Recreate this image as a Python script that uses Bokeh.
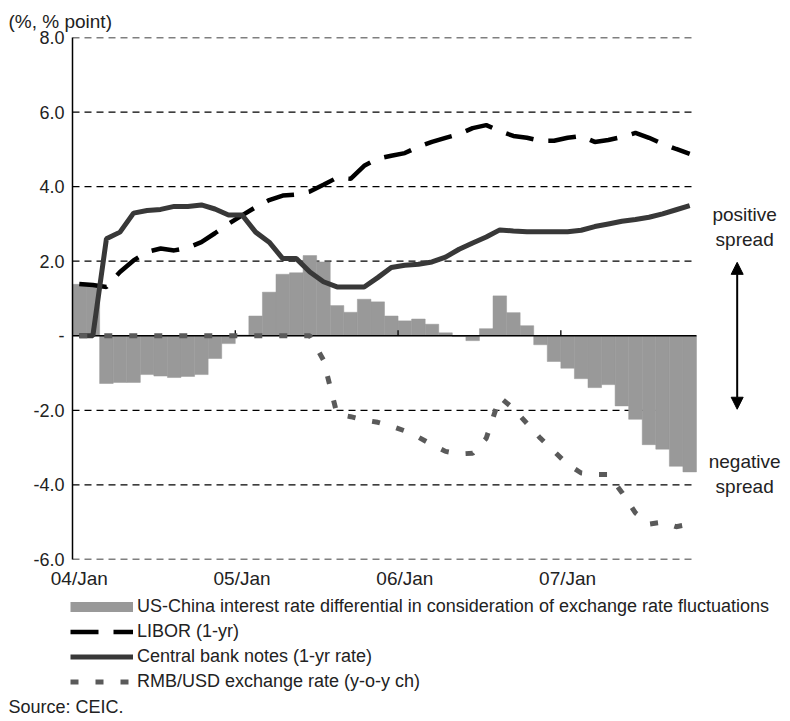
from bokeh.plotting import figure
from bokeh.layouts import column
from bokeh.models import (Range1d, FixedTicker, Label, Legend, LegendItem, Arrow, NormalHead,
                          ColumnDataSource, Title)
from bokeh.embed import file_html
from bokeh.resources import INLINE

FONT = "Liberation Sans"

# ---- data (monthly, Jan 2004 - Oct 2007) ----
years = ["04", "05", "06", "07"]
mon_names = ["Jan", "Feb", "Mar", "Apr", "May", "Jun", "Jul", "Aug", "Sep", "Oct", "Nov", "Dec"]
months = [f"{y}/{m}" for y in years for m in mon_names][:46]

spread = [1.38, 1.38, -1.28, -1.25, -1.25, -1.04, -1.08, -1.12, -1.09, -1.04, -0.61, -0.21,
          0.02, 0.53, 1.17, 1.65, 1.69, 2.15, 1.98, 0.81, 0.63, 0.98, 0.91, 0.53,
          0.40, 0.45, 0.31, 0.08, -0.02, -0.13, 0.19, 1.07, 0.62, 0.27, -0.24, -0.69,
          -0.87, -1.15, -1.39, -1.31, -1.88, -2.24, -2.92, -3.04, -3.50, -3.65]

libor = [1.39, 1.36, 1.31, 1.71, 2.02, 2.25, 2.34, 2.29, 2.36, 2.51, 2.75, 3.00,
         3.23, 3.45, 3.64, 3.76, 3.79, 3.87, 4.05, 4.24, 4.21, 4.56, 4.75, 4.83,
         4.90, 5.07, 5.20, 5.31, 5.41, 5.57, 5.65, 5.49, 5.36, 5.31, 5.23, 5.23,
         5.31, 5.36, 5.20, 5.25, 5.33, 5.44, 5.31, 5.15, 5.01, 4.88]

central = [0.0, 0.0, 2.60, 2.78, 3.29, 3.36, 3.39, 3.47, 3.47, 3.51, 3.40, 3.24,
           3.24, 2.78, 2.51, 2.07, 2.07, 1.71, 1.45, 1.31, 1.31, 1.31, 1.56, 1.83,
           1.89, 1.92, 1.98, 2.11, 2.32, 2.49, 2.65, 2.84, 2.81, 2.79, 2.79, 2.79,
           2.79, 2.83, 2.93, 3.00, 3.07, 3.12, 3.18, 3.27, 3.38, 3.49]

rmb = [0.0, 0.0, 0.0, 0.0, 0.0, 0.0, 0.0, 0.0, 0.0, 0.0, 0.0, 0.0,
       0.0, 0.0, 0.0, 0.0, 0.0, 0.0, -0.65, -2.10, -2.17, -2.26, -2.32, -2.42,
       -2.55, -2.72, -2.92, -3.10, -3.17, -3.15, -2.75, -1.65, -1.95, -2.35, -2.75, -3.10,
       -3.45, -3.68, -3.72, -3.72, -4.20, -4.75, -5.05, -5.00, -5.12, -5.05]

y_ticks = [-6, -4, -2, 0, 2, 4, 6, 8]
y_tick_labels = ["-6.0", "-4.0", "-2.0", "-", "2.0", "4.0", "6.0", "8.0"]
x_tick_labels = ["04/Jan", "05/Jan", "06/Jan", "07/Jan"]

series_names = ["US-China interest rate differential in consideration of exchange rate fluctuations",
                "LIBOR (1-yr)",
                "Central bank notes (1-yr rate)",
                "RMB/USD exchange rate (y-o-y ch)"]

# styles
BAR_COLOR = "#999999"
BAR_KEY_STYLE = dict(line_color=BAR_COLOR, line_width=10)
LIBOR_STYLE = dict(line_color="black", line_width=4.5, line_dash="28 15")
CENTRAL_STYLE = dict(line_color="#383838", line_width=5)
RMB_STYLE = dict(line_color="#5a5a5a", line_width=5, line_dash="8 17")
TXT = "#222222"

# ---- layout (pixels) ----
W = 786
H1 = 591           # main chart height
H2 = 126           # legend + source strip height
LEFT, TOP, BOTTOM_Y = 72, 37, 559
PX_PER_MONTH = 13.565
ROW_H = 25
n = len(months)
x0 = -0.5
x_end = x0 + (W - LEFT) / PX_PER_MONTH

idx = list(range(n))
src = ColumnDataSource(dict(x=idx, spread=spread, libor=libor, central=central, rmb=rmb))

p = figure(width=W, height=H1, x_range=Range1d(x0, x_end), y_range=Range1d(y_ticks[0], y_ticks[-1]),
           output_backend="svg", toolbar_location=None,
           min_border_left=LEFT, min_border_right=0, min_border_top=TOP, min_border_bottom=H1 - BOTTOM_Y)
p.frame_align = False
p.outline_line_color = None
p.background_fill_color = "white"
p.border_fill_color = "white"
p.grid.visible = False

p.title = Title(text="(%, % point)", align="left", offset=-(LEFT - 8), standoff=12,
                text_font=FONT, text_font_size="19px", text_font_style="normal", text_color=TXT)

# dashed horizontal grid over the data span
data_lo, data_hi = idx[0] - 0.5, idx[-1] + 0.5
grid_y = [t for t in y_ticks if t != 0]
p.segment(x0=[data_lo] * len(grid_y), y0=grid_y, x1=[data_hi] * len(grid_y), y1=grid_y,
          line_color="black", line_width=1.3, line_dash="7 5")

p.vbar(x="x", top="spread", bottom=0, width=1.0, source=src,
       fill_color=BAR_COLOR, line_color=BAR_COLOR, line_width=0.5)

# zero line and year ticks
p.segment(x0=[data_lo], y0=[0], x1=[data_hi], y1=[0], line_color="black", line_width=1.6)
jan_idx = [months.index(lbl) for lbl in x_tick_labels]
year_bounds = [i - 0.5 for i in jan_idx[1:]]
p.segment(x0=year_bounds, y0=[0] * len(year_bounds), x1=year_bounds, y1=[0.15] * len(year_bounds),
          line_color="black", line_width=1.3)

p.line("x", "libor", source=src, **LIBOR_STYLE)
p.line("x", "central", source=src, **CENTRAL_STYLE)
p.line("x", "rmb", source=src, **RMB_STYLE)

# axes
p.yaxis.ticker = FixedTicker(ticks=y_ticks)
p.yaxis.bounds = (y_ticks[0], y_ticks[-1])
p.yaxis.major_label_overrides = {t: l for t, l in zip(y_ticks, y_tick_labels)}
p.yaxis.axis_line_color = "black"
p.yaxis.axis_line_width = 1.5
p.yaxis.major_tick_in = 0
p.yaxis.major_tick_out = 0
p.yaxis.minor_tick_in = 0
p.yaxis.minor_tick_out = 0
p.yaxis.major_label_standoff = 8
p.yaxis.major_label_text_font = FONT
p.yaxis.major_label_text_font_size = "18px"
p.yaxis.major_label_text_color = TXT

p.xaxis.ticker = FixedTicker(ticks=jan_idx)
p.xaxis.major_label_overrides = {i: l for i, l in zip(jan_idx, x_tick_labels)}
p.xaxis.axis_line_color = None
p.xaxis.major_tick_in = 0
p.xaxis.major_tick_out = 0
p.xaxis.minor_tick_in = 0
p.xaxis.minor_tick_out = 0
p.xaxis.major_label_standoff = 8
p.xaxis.major_label_text_font = FONT
p.xaxis.major_label_text_font_size = "19px"
p.xaxis.major_label_text_color = TXT

# right-hand annotations
ann_x = data_hi + 3.55
for txt, yv in [("positive", 3.24), ("spread", 2.57), ("negative", -3.38), ("spread", -4.05)]:
    p.add_layout(Label(x=ann_x, y=yv, text=txt, text_align="center", text_baseline="middle",
                       text_font=FONT, text_font_size="19px", text_color=TXT))

arrow_x = data_hi + 3.0
p.add_layout(Arrow(x_start=arrow_x, y_start=-1.97, x_end=arrow_x, y_end=1.97,
                   line_color="black", line_width=2,
                   start=NormalHead(size=12, fill_color="black", line_color="black"),
                   end=NormalHead(size=12, fill_color="black", line_color="black")))

# ---- legend strip ----
q = figure(width=W, height=H2, x_range=Range1d(0, W), y_range=Range1d(0, H2),
           output_backend="svg", toolbar_location=None, x_axis_type=None, y_axis_type=None,
           min_border_left=0, min_border_right=0, min_border_top=0, min_border_bottom=0)
q.frame_align = False
q.outline_line_color = None
q.grid.visible = False
q.background_fill_color = "white"
q.border_fill_color = "white"

# hidden renderers that only supply the legend keys
g_bar = q.line("x", "spread", source=src, visible=False, **BAR_KEY_STYLE)
g_libor = q.line("x", "libor", source=src, visible=False, **LIBOR_STYLE)
g_central = q.line("x", "central", source=src, visible=False, **CENTRAL_STYLE)
g_rmb = q.line("x", "rmb", source=src, visible=False, **RMB_STYLE)

items = [LegendItem(label=name, renderers=[r])
         for name, r in zip(series_names, [g_bar, g_libor, g_central, g_rmb])]
legend = Legend(items=items,
                location=(70, H2 - 3 - ROW_H * len(items)), orientation="vertical",
                glyph_width=63, glyph_height=ROW_H, label_height=ROW_H, spacing=0,
                padding=0, margin=0, label_standoff=4,
                border_line_color=None, background_fill_alpha=0,
                inactive_fill_alpha=0, click_policy="none",
                label_text_font=FONT, label_text_font_size="18px", label_text_color=TXT)
q.add_layout(legend)

q.add_layout(Label(x=8, y=H2 - 115, text="Source: CEIC.", text_baseline="middle",
                   text_font=FONT, text_font_size="18px", text_color=TXT))

layout = column(p, q, spacing=0)
open("out.html", "w").write(file_html(layout, INLINE))
